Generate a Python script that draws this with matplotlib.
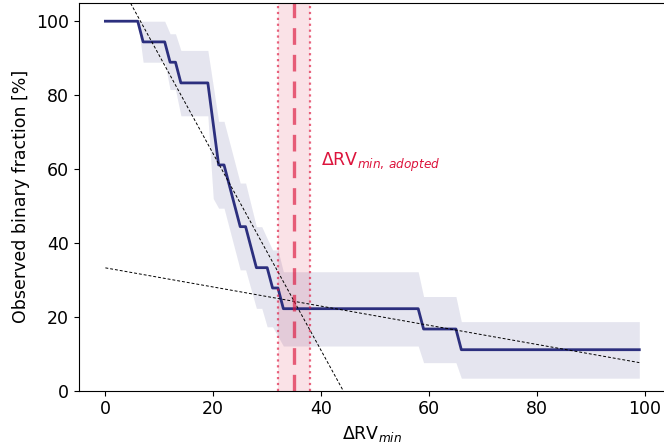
import numpy as np
import matplotlib
matplotlib.use("Agg")
import matplotlib.pyplot as plt

# observed binary fraction vs. dRV_min threshold (step curve vertices)
drv_steps = [0, 6, 7, 11, 12, 13, 14, 19, 21, 22, 25, 26, 28, 30, 31, 32, 33,
             58, 59, 65, 66, 99]
frac_steps = [100, 100, 94.4, 94.4, 88.9, 88.9, 83.3, 83.3, 61.1, 61.1, 44.4,
              44.4, 33.3, 33.3, 27.8, 27.8, 22.2, 22.2, 16.7, 16.7, 11.1, 11.1]

# uncertainty band
band_x = [0, 6, 7, 11, 12, 13, 14, 19, 20, 21, 22, 25, 26, 28, 29, 30, 31, 32,
          33, 58, 59, 65, 66, 99]
band_hi = [100, 100, 100, 100, 96.6, 96.6, 92.1, 92.1, 82.5, 72.9, 72.9, 56.2,
           56.2, 44.4, 44.4, 41.2, 38.1, 38.1, 32.2, 32.2, 25.5, 25.5, 18.7,
           18.7]
band_lo = [100, 100, 88.9, 88.9, 81.5, 81.5, 74.4, 74.4, 52.0, 49.4, 49.4,
           32.7, 32.7, 22.3, 22.3, 17.3, 17.3, 14.7, 12.1, 12.1, 7.6, 7.6, 3.4,
           3.4]

# linear fits (slope, intercept)
steep_fit = (-2.66, 117.3)
flat_fit = (-0.259, 33.25)
fit_range = (0, 99)

# adopted threshold and its range
drv_adopted = 35
drv_range = (32, 38)

navy = "#2c2f7e"
fs = 12.5

fig = plt.figure(figsize=(6.64, 4.47), dpi=100)
ax = fig.add_axes([0.1185, 0.1259, 0.8845, 0.868])

ax.fill_between(band_x, band_lo, band_hi, color=navy, alpha=0.12, lw=0)
ax.plot(drv_steps, frac_steps, color=navy, lw=2)

xf = np.array(fit_range)
for slope, icpt in (steep_fit, flat_fit):
    ax.plot(xf, slope * xf + icpt, color="k", ls="--", lw=0.7, dashes=(3, 2))

ax.axvspan(*drv_range, color="crimson", alpha=0.12, lw=0)
for x in drv_range:
    ax.axvline(x, color="crimson", alpha=0.65, ls=":", lw=1.6)
ax.axvline(drv_adopted, color="crimson", alpha=0.65, ls="--", lw=2.4,
           dashes=(5, 3))

ax.text(39.9, 61.8, r"ΔRV$_{min,\,adopted}$", color="crimson", fontsize=fs,
        va="center", ha="left")

ax.set_xlim(-4.95, 103.95)
ax.set_ylim(0, 105)
ax.set_xticks([0, 20, 40, 60, 80, 100])
ax.set_yticks([0, 20, 40, 60, 80, 100])
ax.tick_params(labelsize=fs)
ax.set_xlabel(r"ΔRV$_{min}$", fontsize=fs)
ax.set_ylabel("Observed binary fraction [%]", fontsize=fs)

fig.savefig("out.png", dpi=100)
